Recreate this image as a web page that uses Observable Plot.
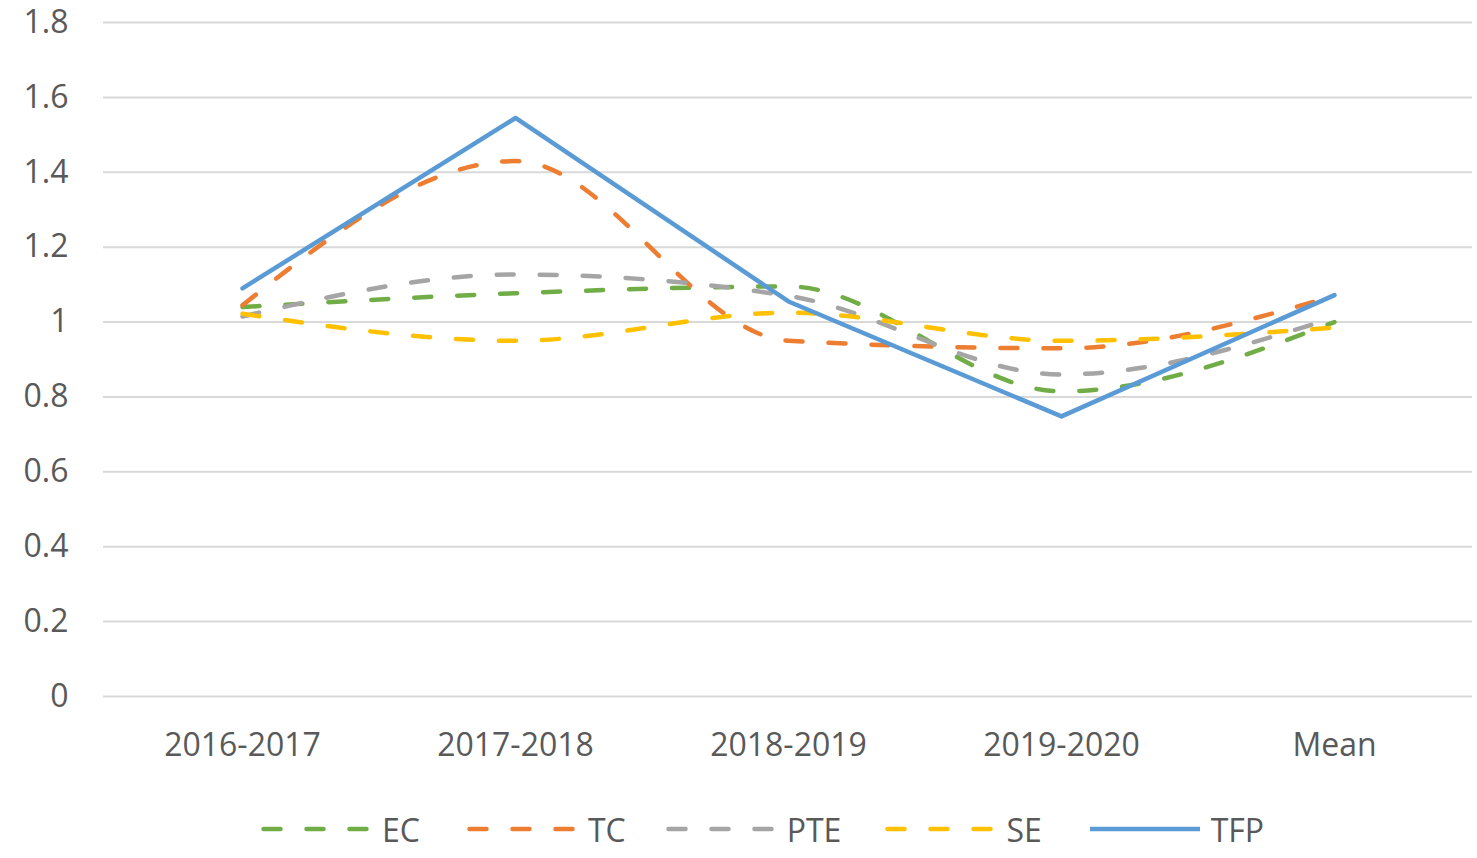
<!DOCTYPE html>
<html>
<head>
<meta charset="utf-8">
<script src="https://cdn.jsdelivr.net/npm/d3@7"></script>
<script src="https://cdn.jsdelivr.net/npm/@observablehq/plot@0.6"></script>
<style>
  html, body { margin: 0; padding: 0; background: #fff; }
  #chart svg { display: block; }
  #legend {
    height: 88px; box-sizing: border-box; padding-top: 30px; padding-left: 261px;
    display: flex; align-items: center; font-family: "Open Sans", sans-serif;
    font-size: 32px; color: #595959;
  }
  .item { display: flex; align-items: center; height: 40px; }
  .item svg { display: block; margin-right: 11px; }
</style>
</head>
<body>
<div id="chart"></div>
<div id="legend"></div>
<script>
const categories = ["2016-2017", "2017-2018", "2018-2019", "2019-2020", "Mean"];
const seriesNames = ["EC", "TC", "PTE", "SE", "TFP"];
const EC  = [1.04, 1.077, 1.095, 0.815, 1.00];
const TC  = [1.045, 1.43, 0.95, 0.93, 1.07];
const PTE = [1.015, 1.127, 1.07, 0.86, 1.012];
const SE  = [1.022, 0.95, 1.025, 0.95, 0.985];
const TFP = [1.09, 1.545, 1.055, 0.748, 1.072];
const yTicks = [0, 0.2, 0.4, 0.6, 0.8, 1, 1.2, 1.4, 1.6, 1.8];

const colors = ["#70AD47", "#ED7D31", "#A5A5A5", "#FFC000", "#5B9BD5"];
const values = {EC, TC, PTE, SE, TFP};
const rows = [];
for (const s of seriesNames) {
  categories.forEach((c, i) => rows.push({series: s, cat: c, value: values[s][i]}));
}
const dashedRows = rows.filter(d => d.series !== "TFP");
const solidRows = rows.filter(d => d.series === "TFP");
const fmt = d => String(+d.toFixed(1));

const chart = Plot.plot({
  width: 1477,
  height: 770,
  marginLeft: 103,
  marginRight: 5,
  marginTop: 22,
  marginBottom: 74,
  style: {fontFamily: "'Open Sans', sans-serif", fontSize: "32px", color: "#595959", background: "#fff", overflow: "visible"},
  x: {type: "point", domain: categories, padding: 0.5, axis: null, label: null},
  y: {domain: [0, 1.8], axis: null, label: null},
  color: {domain: seriesNames, range: colors},
  marks: [
    Plot.ruleY(yTicks, {stroke: "#d9d9d9", strokeWidth: 2}),
    Plot.axisY({ticks: yTicks, tickSize: 0, tickPadding: 35, tickFormat: fmt, fill: "#595959", fontSize: 32, label: null}),
    Plot.axisX({tickSize: 0, tickPadding: 37, fill: "#595959", fontSize: 32, label: null}),
    Plot.line(dashedRows, {x: "cat", y: "value", z: "series", stroke: "series", strokeWidth: 4.5,
      strokeDasharray: "17,26", strokeLinecap: "round", curve: "monotone-x"}),
    Plot.line(solidRows, {x: "cat", y: "value", z: "series", stroke: "series", strokeWidth: 4.5, curve: "linear"})
  ]
});
document.getElementById("chart").appendChild(chart);

const legend = document.getElementById("legend");
const gaps = [47, 40, 44, 48, 0];
seriesNames.forEach((s, i) => {
  const item = document.createElement("div");
  item.className = "item";
  item.style.marginRight = gaps[i] + "px";
  const dash = s === "TFP" ? "" : 'stroke-dasharray="17,26" stroke-linecap="round"';
  item.innerHTML = `<svg width="110" height="10"><line x1="${s === "TFP" ? 0 : 2.5}" y1="5" x2="${s === "TFP" ? 110 : 108}" y2="5" stroke="${colors[i]}" stroke-width="4.5" ${dash}/></svg><span>${s}</span>`;
  legend.appendChild(item);
});
</script>
</body>
</html>
